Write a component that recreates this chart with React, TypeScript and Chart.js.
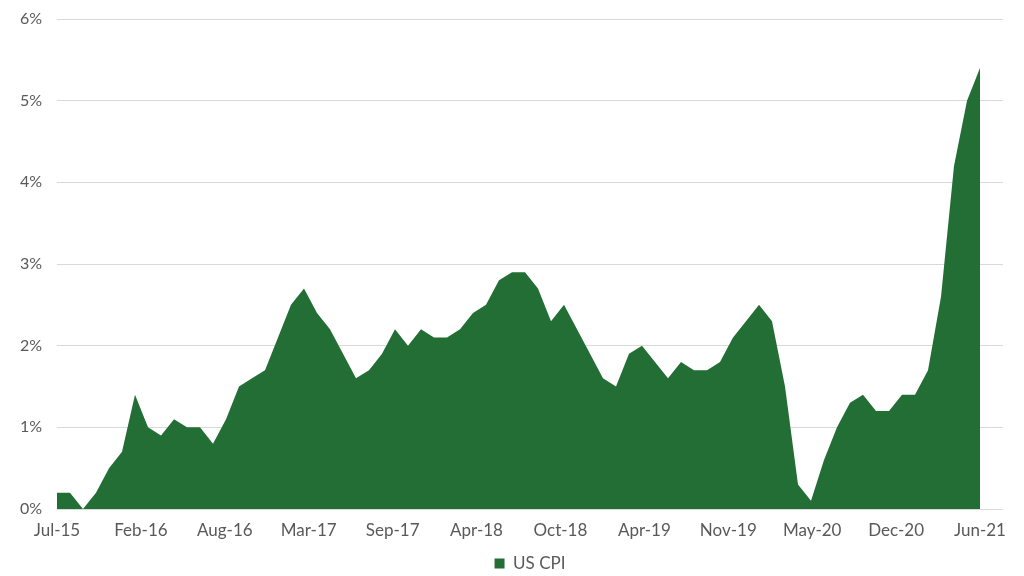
import React, { useEffect, useRef } from "react";
import { Chart, registerables } from "chart.js";

Chart.register(...registerables);

const months: string[] = [
  "Jul-15", "Aug-15", "Sep-15", "Oct-15", "Nov-15", "Dec-15",
  "Jan-16", "Feb-16", "Mar-16", "Apr-16", "May-16", "Jun-16", "Jul-16", "Aug-16", "Sep-16", "Oct-16", "Nov-16", "Dec-16",
  "Jan-17", "Feb-17", "Mar-17", "Apr-17", "May-17", "Jun-17", "Jul-17", "Aug-17", "Sep-17", "Oct-17", "Nov-17", "Dec-17",
  "Jan-18", "Feb-18", "Mar-18", "Apr-18", "May-18", "Jun-18", "Jul-18", "Aug-18", "Sep-18", "Oct-18", "Nov-18", "Dec-18",
  "Jan-19", "Feb-19", "Mar-19", "Apr-19", "May-19", "Jun-19", "Jul-19", "Aug-19", "Sep-19", "Oct-19", "Nov-19", "Dec-19",
  "Jan-20", "Feb-20", "Mar-20", "Apr-20", "May-20", "Jun-20", "Jul-20", "Aug-20", "Sep-20", "Oct-20", "Nov-20", "Dec-20",
  "Jan-21", "Feb-21", "Mar-21", "Apr-21", "May-21", "Jun-21",
];

const usCpi: number[] = [
  0.2, 0.2, 0.0, 0.2, 0.5, 0.7,
  1.4, 1.0, 0.9, 1.1, 1.0, 1.0, 0.8, 1.1, 1.5, 1.6, 1.7, 2.1,
  2.5, 2.7, 2.4, 2.2, 1.9, 1.6, 1.7, 1.9, 2.2, 2.0, 2.2, 2.1,
  2.1, 2.2, 2.4, 2.5, 2.8, 2.9, 2.9, 2.7, 2.3, 2.5, 2.2, 1.9,
  1.6, 1.5, 1.9, 2.0, 1.8, 1.6, 1.8, 1.7, 1.7, 1.8, 2.1, 2.3,
  2.5, 2.3, 1.5, 0.3, 0.1, 0.6, 1.0, 1.3, 1.4, 1.2, 1.2, 1.4,
  1.4, 1.7, 2.6, 4.2, 5.0, 5.4,
];

const xTickLabels: string[] = [
  "Jul-15", "Feb-16", "Aug-16", "Mar-17", "Sep-17", "Apr-18",
  "Oct-18", "Apr-19", "Nov-19", "May-20", "Dec-20", "Jun-21",
];

const yTicks: number[] = [0, 1, 2, 3, 4, 5, 6];

const FONT = "Lato, 'Open Sans', sans-serif";
const TEXT = "#595959";
const GREEN = "#236e35";

export default function App() {
  const ref = useRef<HTMLCanvasElement | null>(null);

  useEffect(() => {
    document.body.style.margin = "0";
    if (!ref.current) return;
    const last = months.length - 1;
    const chart = new Chart(ref.current, {
      type: "line",
      data: {
        datasets: [
          {
            label: "US CPI",
            data: usCpi.map((v, i) => ({ x: i, y: v })),
            backgroundColor: GREEN,
            borderColor: GREEN,
            borderWidth: 0,
            pointRadius: 0,
            fill: "origin",
            tension: 0,
          },
        ],
      },
      options: {
        responsive: false,
        animation: false,
        layout: { padding: { top: 19, right: 21, left: 0, bottom: -6 } },
        plugins: {
          tooltip: { enabled: false },
          legend: {
            position: "bottom",
            fullSize: false,
            labels: {
              color: TEXT,
              font: { family: FONT, size: 17 },
              boxWidth: 10,
              boxHeight: 10,
              padding: 2,
            },
          },
        },
        scales: {
          x: {
            type: "linear",
            min: 0,
            max: last * (946 / 923),
            grid: { display: false, drawTicks: false },
            border: { display: false },
            afterBuildTicks: (scale: any) => {
              scale.ticks = xTickLabels.map((_, i) => ({ value: (i * last) / (xTickLabels.length - 1) }));
            },
            afterFit: (scale: any) => {
              scale.height = 44;
            },
            ticks: {
              autoSkip: false,
              maxRotation: 0,
              color: TEXT,
              font: { family: FONT, size: 17 },
              padding: 11,
              callback: (_v: any, i: number) => xTickLabels[i],
            },
          },
          y: {
            min: 0,
            max: 6,
            afterBuildTicks: (scale: any) => {
              scale.ticks = yTicks.map((v) => ({ value: v }));
            },
            afterFit: (scale: any) => {
              scale.width = 57;
              scale.paddingTop = 0;
              scale.paddingBottom = 0;
            },
            grid: { color: "#d9d9d9", drawTicks: false, lineWidth: 1 },
            border: { display: false },
            ticks: {
              color: TEXT,
              font: { family: FONT, size: 16 },
              padding: 15,
              callback: (v: any) => v + "%",
            },
          },
        },
      },
    } as any);
    return () => chart.destroy();
  }, []);

  return (
    <div style={{ width: 1024, height: 576, position: "relative", background: "#fff" }}>
      <canvas ref={ref} width={1024} height={576} />
    </div>
  );
}
